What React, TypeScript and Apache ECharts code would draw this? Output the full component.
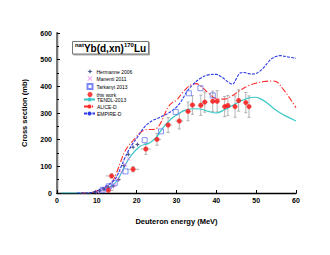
import React, { useEffect, useRef } from "react";
import * as echarts from "echarts";

// TENDL-2013
const tendlE = [1, 4, 6, 8, 9, 10, 11, 12, 13, 14, 15, 16, 17, 18, 19, 20, 21, 22, 23, 24, 25, 26, 27, 28, 29, 30, 32, 34, 36, 38, 40, 42, 44, 46, 48, 49.5, 51, 53, 55, 57, 60];
const tendlY = [0, 0, 0, 0, 2, 5, 9, 15, 21, 30, 45, 70, 100, 128, 148, 164, 176, 182, 186, 196, 210, 232, 252, 268, 282, 292, 310, 316, 315, 306, 300, 312, 328, 344, 356, 359, 354, 335, 310, 292, 270];
// ALICE-D
const aliceE = [6, 8, 9, 10, 11, 12, 13, 14, 15, 16, 17, 18, 19, 20, 21, 22, 23, 24, 25, 26, 27, 28, 29, 30, 32, 34, 35, 36, 38, 40, 42, 44, 46, 48, 50, 52, 54, 55, 57, 58, 60];
const aliceY = [0, 0, 3, 8, 13, 20, 30, 45, 78, 118, 155, 178, 195, 212, 228, 236, 238, 238, 242, 262, 295, 325, 340, 348, 385, 408, 410, 402, 375, 354, 352, 365, 385, 402, 412, 418, 420, 418, 385, 365, 320];
// EMPIRE-D
const empireE = [5, 7, 8, 9, 10, 11, 12, 13, 14, 15, 16, 17, 18, 19, 20, 21, 22, 23, 24, 25, 26, 27, 28, 29, 30, 31, 32, 33, 34, 36, 38, 40, 41, 42, 43, 44, 45, 46, 47, 48, 49, 50, 51, 52, 53, 54, 55, 56, 58, 60];
const empireY = [0, 0, 1, 3, 8, 15, 24, 32, 42, 62, 95, 130, 160, 185, 205, 228, 248, 262, 272, 278, 285, 292, 300, 310, 322, 340, 365, 388, 405, 430, 443, 445, 438, 428, 416, 408, 428, 450, 452, 448, 446, 448, 458, 472, 490, 505, 512, 515, 510, 505];
// Hermanne 2006
const hermE = [9.6, 10.7, 11.8, 12.9, 14.1, 15.5, 16.8, 17.9, 19.1, 20.2];
const hermY = [3, 8, 14, 22, 25, 50, 102, 145, 172, 182];
// Manenti 2011
const manE = [10.2, 11.3, 12.4, 13.4, 14.4, 15.3, 16.2, 17.1, 18.0];
const manY = [4, 9, 14, 20, 30, 52, 78, 106, 128];
// Tarkanyi 2013
const tarE = [11.5, 13.0, 14.5, 17.2, 22.0, 26.1, 29.8, 33.1, 36.0, 39.1];
const tarY = [12, 25, 38, 81, 198, 231, 304, 374, 393, 366];
// this work
const twE = [12.9, 13.7, 19.1, 22.3, 25.1, 27.9, 30.7, 32.9, 34.0, 36.1, 37.1, 39.1, 40.2, 42.1, 42.9, 44.7, 45.6, 47.4, 48.2];
const twY = [10, 64, 89, 165, 201, 255, 270, 306, 330, 329, 341, 344, 344, 324, 328, 324, 347, 339, 324];
const twDY = [8, 8, 10, 20, 22, 28, 30, 35, 35, 38, 38, 38, 40, 38, 38, 40, 40, 38, 40];
const twDE = [1.3, 1.5, 1.5, 1.2, 1.0, 1.0, 1.0, 0.8, 0.8, 0.8, 0.8, 0.7, 0.7, 0.7, 0.7, 0.6, 0.6, 0.6, 0.6];

const xTicks = [0, 60, 10];
const yTicks = [0, 600, 100];

const zip = (a: number[], b: number[]) => a.map((v, i) => [v, b[i]]);

const FONT = "Arial, 'Liberation Sans', sans-serif";
const STAR = "path://M0,-1 L0.28,-0.28 L1,0 L0.28,0.28 L0,1 L-0.28,0.28 L-1,0 L-0.28,-0.28 Z";
const XMARK = "path://M-1,-0.8 L-0.8,-1 L0,-0.2 L0.8,-1 L1,-0.8 L0.2,0 L1,0.8 L0.8,1 L0,0.2 L-0.8,1 L-1,0.8 L-0.2,0 Z";

const legendText = { fontSize: 5, color: "#000", fontFamily: FONT };

export default function App() {
  const ref = useRef<HTMLDivElement>(null);
  useEffect(() => {
    if (!ref.current) return;
    const chart = echarts.init(ref.current, null, { renderer: "svg" });
    const errData = twE.map((e, i) => [e, twY[i], twDE[i], twDY[i]]);
    chart.setOption({
      animation: false,
      backgroundColor: "#fff",
      textStyle: { fontFamily: FONT },
      grid: { left: 57, top: 33, width: 239, height: 160, containLabel: false },
      xAxis: [
        {
          type: "value", min: xTicks[0], max: xTicks[1], interval: xTicks[2],
          name: "Deuteron energy (MeV)", nameLocation: "middle", nameGap: 24,
          nameTextStyle: { fontSize: 7.5, fontWeight: "bold", color: "#000", fontFamily: FONT },
          axisLine: { lineStyle: { color: "#000", width: 1.3 } },
          axisTick: { inside: true, length: 3, lineStyle: { color: "#000" } },
          axisLabel: { fontSize: 7, fontWeight: "bold", color: "#000", margin: 4, fontFamily: FONT },
          splitLine: { show: false },
        },
        {
          type: "value", position: "top", min: xTicks[0], max: xTicks[1],
          axisLine: { show: true, lineStyle: { color: "#000", width: 1 } },
          axisTick: { show: false }, axisLabel: { show: false }, splitLine: { show: false },
        },
      ],
      yAxis: [
        {
          type: "value", min: yTicks[0], max: yTicks[1], interval: yTicks[2],
          name: "Cross section (mb)", nameLocation: "middle", nameGap: 29, nameRotate: 90,
          nameTextStyle: { fontSize: 7.5, fontWeight: "bold", color: "#000", fontFamily: FONT },
          axisLine: { show: true, lineStyle: { color: "#000", width: 1.3 } },
          axisTick: { inside: true, length: 3, lineStyle: { color: "#000" } },
          minorTick: { show: true, splitNumber: 2, length: 2, lineStyle: { color: "#000" } },
          axisLabel: { fontSize: 7, fontWeight: "bold", color: "#000", margin: 5, fontFamily: FONT },
          splitLine: { show: false },
        },
        {
          type: "value", position: "right", min: yTicks[0], max: yTicks[1],
          axisLine: { show: true, lineStyle: { color: "#777", width: 2 } },
          axisTick: { show: false }, axisLabel: { show: false }, splitLine: { show: false },
        },
      ],
      legend: [
        {
          orient: "vertical", left: 86.5, top: 69, itemWidth: 5, itemHeight: 5, itemGap: 2,
          padding: 0,
          textStyle: { ...legendText, padding: [0, 0, 0, -1] },
          data: ["Hermanne 2006", "Manenti 2011", "Tarkanyi 2013", "this work"],
        },
        {
          orient: "vertical", left: 83, top: 97, itemWidth: 11, itemHeight: 5, itemGap: 2,
          padding: 0,
          textStyle: { ...legendText, padding: [0, 0, 0, -3] },
          data: ["TENDL-2013", "ALICE-D", "EMPIRE-D"],
        },
      ],
      graphic: [
        {
          type: "group",
          children: [
            {
              type: "rect", shape: { x: 72.5, y: 41.5, width: 76, height: 12.5 },
              style: { fill: "#fff", stroke: "#777", lineWidth: 1, shadowColor: "#aaa", shadowOffsetX: 1, shadowOffsetY: 1, shadowBlur: 0 },
            },
            {
              type: "text", x: 110.5, y: 48,
              style: {
                text: "{s|nat}{b|Yb(d,xn)}{s|170}{b|Lu}",
                align: "center", verticalAlign: "middle",
                rich: {
                  s: { fontSize: 6, fontWeight: "bold", fontFamily: FONT, fill: "#000", verticalAlign: "top", lineHeight: 12 },
                  b: { fontSize: 10, fontWeight: "bold", fontFamily: FONT, fill: "#000", lineHeight: 12 },
                },
              },
            },
          ],
        },
      ],
      series: [
        {
          name: "err", type: "custom", silent: true, z: 1,
          data: errData,
          encode: { x: 0, y: 1 },
          renderItem: (_p: any, api: any) => {
            const x = api.value(0), y = api.value(1), dx = api.value(2), dy = api.value(3);
            const t = api.coord([x, y + dy]);
            const b = api.coord([x, y - dy]);
            const l = api.coord([x - dx, y]);
            const r = api.coord([x + dx, y]);
            const st = { stroke: "#a0a0a0", lineWidth: 0.8 };
            return {
              type: "group",
              children: [
                { type: "line", shape: { x1: t[0], y1: t[1], x2: b[0], y2: b[1] }, style: st },
                { type: "line", shape: { x1: t[0] - 1.5, y1: t[1], x2: t[0] + 1.5, y2: t[1] }, style: st },
                { type: "line", shape: { x1: b[0] - 1.5, y1: b[1], x2: b[0] + 1.5, y2: b[1] }, style: st },
                { type: "line", shape: { x1: l[0], y1: l[1], x2: r[0], y2: r[1] }, style: st },
              ],
            };
          },
        },
        {
          name: "TENDL-2013", type: "line", data: zip(tendlE, tendlY), smooth: 0.4, symbol: "none", z: 2,
          lineStyle: { color: "#3cc8c8", width: 1.2 }, itemStyle: { color: "#3cc8c8" },
        },
        {
          name: "ALICE-D", type: "line", data: zip(aliceE, aliceY), smooth: 0.4, symbol: "none", z: 2,
          lineStyle: { color: "#ff2a2a", width: 1.1, type: [6, 2, 1.2, 2] }, itemStyle: { color: "#ff2a2a" },
        },
        {
          name: "EMPIRE-D", type: "line", data: zip(empireE, empireY), smooth: 0.4, symbol: "none", z: 2,
          lineStyle: { color: "#2a3ae8", width: 1.1, type: [3, 1.2] }, itemStyle: { color: "#2a3ae8" },
        },
        {
          name: "Hermanne 2006", type: "scatter", data: zip(hermE, hermY), symbol: STAR, symbolSize: 5, z: 3,
          itemStyle: { color: "#1a2a6c" },
        },
        {
          name: "Manenti 2011", type: "scatter", data: zip(manE, manY), symbol: XMARK, symbolSize: 4, z: 3,
          itemStyle: { color: "#ee66ee" },
        },
        {
          name: "Tarkanyi 2013", type: "scatter", data: zip(tarE, tarY), symbol: "rect", symbolSize: 5, z: 3,
          itemStyle: { color: "rgba(0,0,0,0)", borderColor: "#5a6af0", borderWidth: 0.9 },
        },
        {
          name: "this work", type: "scatter", data: zip(twE, twY), symbol: "circle", symbolSize: 5, z: 4,
          itemStyle: { color: "#ff1010" },
        },
      ],
    });
    return () => chart.dispose();
  }, []);
  return (
    <div
      ref={ref}
      style={{ position: "absolute", left: 0, top: 0, width: 330, height: 255, background: "#fff" }}
    />
  );
}
